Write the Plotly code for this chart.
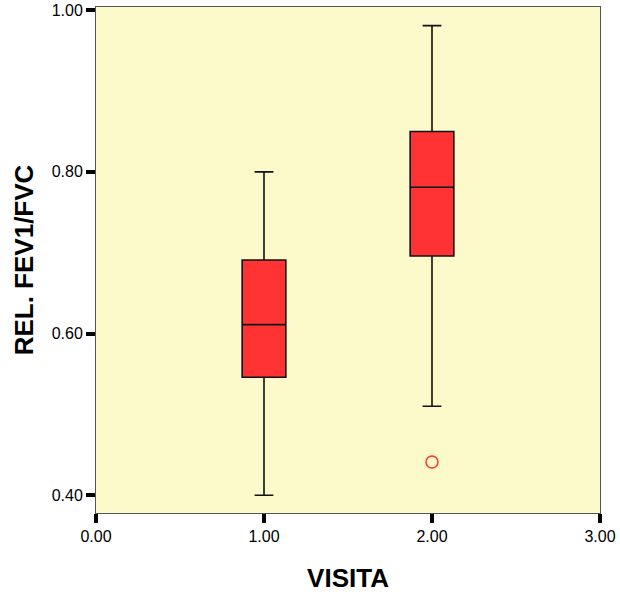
import plotly.graph_objects as go

visits = [1.0, 2.0]
q1 = [0.546, 0.696]
median = [0.611, 0.781]
q3 = [0.691, 0.850]
lower = [0.400, 0.510]
upper = [0.800, 0.981]
outlier_x = [2.0]
outlier_y = [0.441]

x_ticks = [0, 1, 2, 3]
x_labels = ["0.00", "1.00", "2.00", "3.00"]
y_ticks = [0.4, 0.6, 0.8, 1.0]
y_labels = ["0.40", "0.60", "0.80", "1.00"]

fig = go.Figure()
for i, v in enumerate(visits):
    fig.add_trace(go.Box(
        x=[v], q1=[q1[i]], median=[median[i]], q3=[q3[i]],
        lowerfence=[lower[i]], upperfence=[upper[i]],
        width=0.26, whiskerwidth=0.43,
        fillcolor="#ff3333", line=dict(color="#111111", width=1.6),
        boxpoints=False, showlegend=False, hoverinfo="skip",
    ))
fig.add_trace(go.Scatter(
    x=outlier_x, y=outlier_y, mode="markers",
    marker=dict(symbol="circle-open", size=12, color="#ff3333", line=dict(width=1.5)),
    showlegend=False, hoverinfo="skip",
))

font_family = "Liberation Sans, Arial, sans-serif"
fig.update_layout(
    width=620, height=596,
    margin=dict(l=96, r=20, t=7, b=83),
    paper_bgcolor="white",
    plot_bgcolor="#fcf9ca",
    font=dict(family=font_family, size=16, color="black"),
    xaxis=dict(
        range=[0, 3], tickvals=x_ticks, ticktext=x_labels,
        ticks="outside", ticklen=9, tickwidth=4, tickcolor="black",
        showgrid=False, zeroline=False, automargin=False,
        showline=True, linecolor="#555555", linewidth=1, mirror=True,
        title=dict(text="<b>VISITA</b>", font=dict(size=26), standoff=24),
        tickfont=dict(size=16),
    ),
    yaxis=dict(
        range=[0.378, 1.004], tickvals=y_ticks, ticktext=y_labels,
        ticks="outside", ticklen=9, tickwidth=4, tickcolor="black",
        showgrid=False, zeroline=False, automargin=False,
        showline=True, linecolor="#555555", linewidth=1, mirror=True,
        title=dict(text="<b>REL. FEV1/FVC</b>", font=dict(size=26), standoff=10),
        tickfont=dict(size=16),
    ),
)
fig.write_html("out.html", config={"displayModeBar": False},
               post_script="document.body.style.margin='0';")
